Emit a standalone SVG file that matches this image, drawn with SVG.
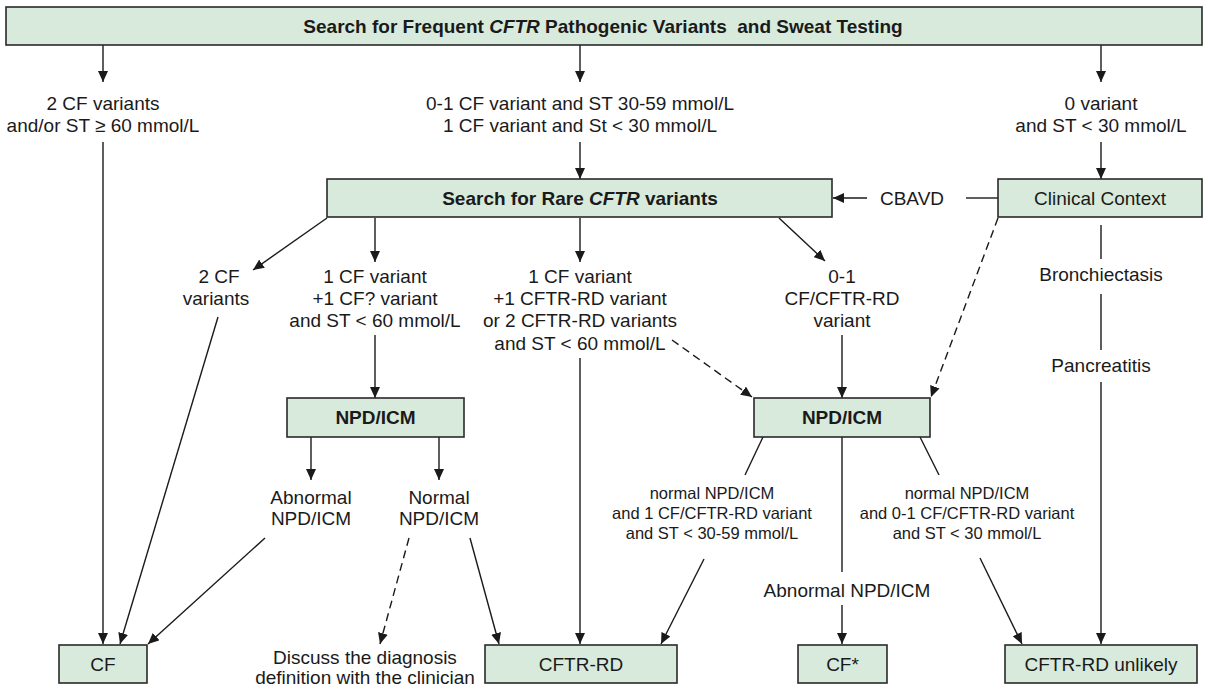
<svg xmlns="http://www.w3.org/2000/svg" width="1208" height="689" viewBox="0 0 1208 689">
<defs>
<marker id="ah" markerUnits="userSpaceOnUse" markerWidth="12" markerHeight="10" refX="11" refY="5" orient="auto">
<path d="M0,0 L11,5 L0,10 Z" fill="#1a1a1a"/>
</marker>
<style>
.box{fill:#d8eadc;stroke:#2a2a2a;stroke-width:1.6}
.t{font-family:"Liberation Sans",Arial,sans-serif;font-size:19px;fill:#1a1a1a;text-anchor:middle}
.b{font-family:"Liberation Sans",Arial,sans-serif;font-size:19px;font-weight:bold;fill:#1a1a1a;text-anchor:middle}
.s{font-family:"Liberation Sans",Arial,sans-serif;font-size:16.5px;fill:#1a1a1a;text-anchor:middle}
.c{stroke:#1a1a1a;stroke-width:1.4;fill:none}
.a{stroke:#1a1a1a;stroke-width:1.4;fill:none;marker-end:url(#ah)}
.d{stroke:#1a1a1a;stroke-width:1.4;fill:none;stroke-dasharray:8 5}
.da{stroke:#1a1a1a;stroke-width:1.4;fill:none;stroke-dasharray:8 5;marker-end:url(#ah)}
</style>
</defs>
<rect width="1208" height="689" fill="#ffffff"/>

<g id="connectors">
<line class="a" x1="103" y1="45" x2="103" y2="82"/>
<line class="a" x1="580" y1="45" x2="580" y2="82"/>
<line class="a" x1="1101" y1="45" x2="1101" y2="82"/>
<line class="a" x1="103" y1="142" x2="103" y2="644"/>
<line class="a" x1="580" y1="142" x2="580" y2="179"/>
<line class="a" x1="1101" y1="142" x2="1101" y2="179"/>
<line class="a" x1="867" y1="198" x2="833" y2="198"/>
<line class="c" x1="966" y1="198" x2="998" y2="198"/>
<line class="a" x1="327" y1="218" x2="253" y2="270"/>
<line class="a" x1="375" y1="218" x2="375" y2="262"/>
<line class="a" x1="580" y1="218" x2="580" y2="262"/>
<line class="a" x1="779" y1="218" x2="825" y2="261"/>
<line class="c" x1="1101" y1="225" x2="1101" y2="259"/>
<line class="c" x1="1101" y1="294" x2="1101" y2="350"/>
<line class="a" x1="1101" y1="382" x2="1101" y2="644"/>
<line class="da" x1="998" y1="218" x2="931" y2="397"/>
<line class="a" x1="218" y1="317" x2="120" y2="644"/>
<line class="a" x1="375" y1="335" x2="375" y2="398"/>
<line class="a" x1="580" y1="358" x2="580" y2="644"/>
<line class="a" x1="842" y1="335" x2="842" y2="398"/>
<line class="da" x1="672" y1="340" x2="752" y2="397"/>
<line class="a" x1="311" y1="437" x2="311" y2="480"/>
<line class="a" x1="439" y1="437" x2="439" y2="480"/>
<line class="a" x1="265" y1="538" x2="148" y2="644"/>
<line class="da" x1="409" y1="538" x2="380" y2="644"/>
<line class="a" x1="470" y1="538" x2="499" y2="644"/>
<line class="c" x1="763" y1="437" x2="745" y2="475"/>
<line class="c" x1="920" y1="437" x2="939" y2="475"/>
<line class="c" x1="842" y1="437" x2="842" y2="572"/>
<line class="a" x1="842" y1="605" x2="842" y2="644"/>
<line class="a" x1="704" y1="559" x2="661" y2="644"/>
<line class="a" x1="980" y1="558" x2="1022" y2="644"/>
</g>

<g id="n-top">
<rect class="box" x="6" y="7" width="1196" height="38"/>
<text class="b" x="603" y="33" xml:space="preserve">Search for Frequent <tspan font-style="italic">CFTR</tspan> Pathogenic Variants  and Sweat Testing</text>
</g>

<g id="l-2cf">
<text class="t" x="103" y="110">2 CF variants</text>
<text class="t" x="103" y="132">and/or ST ≥ 60 mmol/L</text>
</g>
<g id="l-mid">
<text class="t" x="580" y="110">0-1 CF variant and ST 30-59 mmol/L</text>
<text class="t" x="580" y="132">1 CF variant and St &lt; 30 mmol/L</text>
</g>
<g id="l-0var">
<text class="t" x="1101" y="110">0 variant</text>
<text class="t" x="1101" y="132">and ST &lt; 30 mmol/L</text>
</g>

<g id="n-rare">
<rect class="box" x="327" y="179" width="505" height="38"/>
<text class="b" x="580" y="205">Search for Rare <tspan font-style="italic">CFTR</tspan> variants</text>
</g>
<g id="l-cbavd">
<text class="t" x="912" y="205">CBAVD</text>
</g>
<g id="n-clinical">
<rect class="box" x="998" y="179" width="204" height="38"/>
<text class="t" x="1100" y="205">Clinical Context</text>
</g>
<g id="l-bronch">
<text class="t" x="1101" y="281">Bronchiectasis</text>
</g>
<g id="l-panc">
<text class="t" x="1101" y="372">Pancreatitis</text>
</g>

<g id="l-r1">
<text class="t" x="219" y="283">2 CF</text>
<text class="t" x="216" y="305">variants</text>
</g>
<g id="l-r2">
<text class="t" x="375" y="283">1 CF variant</text>
<text class="t" x="375" y="305">+1 CF? variant</text>
<text class="t" x="375" y="327">and ST &lt; 60 mmol/L</text>
</g>
<g id="l-r3">
<text class="t" x="580" y="283">1 CF variant</text>
<text class="t" x="580" y="305">+1 CFTR-RD variant</text>
<text class="t" x="580" y="327">or 2 CFTR-RD variants</text>
<text class="t" x="580" y="350">and ST &lt; 60 mmol/L</text>
</g>
<g id="l-r4">
<text class="t" x="842" y="283">0-1</text>
<text class="t" x="842" y="305">CF/CFTR-RD</text>
<text class="t" x="842" y="327">variant</text>
</g>

<g id="n-npd1">
<rect class="box" x="287" y="398" width="177" height="39"/>
<text class="b" x="375.5" y="424">NPD/ICM</text>
</g>
<g id="n-npd2">
<rect class="box" x="754" y="398" width="176" height="39"/>
<text class="b" x="842" y="424">NPD/ICM</text>
</g>

<g id="l-abn1">
<text class="t" x="311" y="504">Abnormal</text>
<text class="t" x="311" y="525">NPD/ICM</text>
</g>
<g id="l-norm1">
<text class="t" x="439" y="504">Normal</text>
<text class="t" x="439" y="525">NPD/ICM</text>
</g>
<g id="l-norm2">
<text class="s" x="712" y="499">normal NPD/ICM</text>
<text class="s" x="712" y="519">and 1 CF/CFTR-RD variant</text>
<text class="s" x="712" y="539">and ST &lt; 30-59 mmol/L</text>
</g>
<g id="l-norm3">
<text class="s" x="967" y="499">normal NPD/ICM</text>
<text class="s" x="967" y="519">and 0-1 CF/CFTR-RD variant</text>
<text class="s" x="967" y="539">and ST &lt; 30 mmol/L</text>
</g>
<g id="l-abn2">
<text class="t" x="847" y="597">Abnormal NPD/ICM</text>
</g>
<g id="l-discuss">
<text class="t" x="365" y="664">Discuss the diagnosis</text>
<text class="t" x="365" y="684">definition with the clinician</text>
</g>

<g id="n-cf">
<rect class="box" x="59" y="645" width="88" height="38"/>
<text class="t" x="103" y="671">CF</text>
</g>
<g id="n-cftrrd">
<rect class="box" x="485" y="645" width="192" height="38"/>
<text class="t" x="581" y="671">CFTR-RD</text>
</g>
<g id="n-cfstar">
<rect class="box" x="798" y="645" width="89" height="38"/>
<text class="t" x="842.5" y="671">CF*</text>
</g>
<g id="n-unlikely">
<rect class="box" x="1005" y="645" width="192" height="38"/>
<text class="t" x="1101" y="671">CFTR-RD unlikely</text>
</g>
</svg>
